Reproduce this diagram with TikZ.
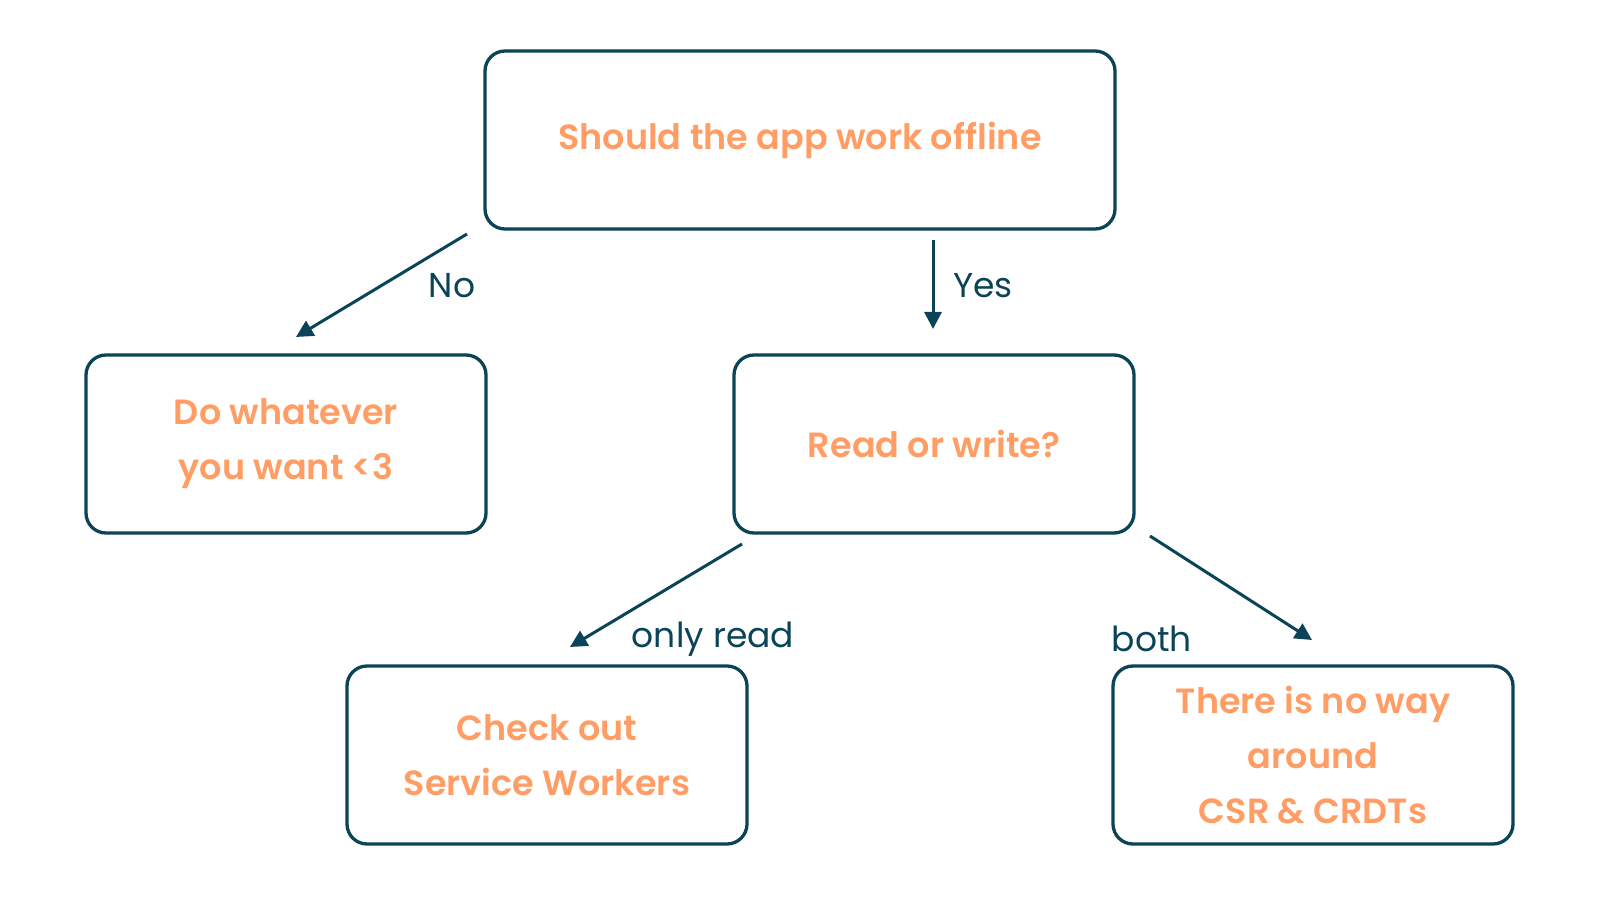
\documentclass[tikz,border=0pt]{standalone}
\usepackage{fontspec}
\setmainfont{Poppins}[BoldFont={Poppins SemiBold}]
\usetikzlibrary{arrows.meta}
\definecolor{navy}{RGB}{10,68,86}
\definecolor{peach}{RGB}{255,157,100}
\tikzset{
  question/.style={draw=navy, line width=3.3pt, rounded corners=20pt, minimum width=400pt, minimum height=178pt,
    align=center, text=peach, font=\fontsize{35}{55}\selectfont\bfseries},
  answer/.style={navy, line width=3pt, -{Triangle[width=17pt,length=17pt]}},
  choice/.style={text=navy, font=\fontsize{34.5}{40}\selectfont}
}
\begin{document}
\begin{tikzpicture}[x=1pt,y=1pt]
            \useasboundingbox (0,0) rectangle (1600,900);

            \node[question, minimum width=630pt] (offline) at (800,760) {Should the app work offline};
            \node[question] (whatever) at (286,456) {Do whatever\\you want <3};
            \node[question] (readwrite) at (934,456) {Read or write?};
            \node[question] (workers) at (547,145) {Check out\\Service Workers};
            \node[question] (noway) at (1313,145) {There is no way\\around\\CSR \& CRDTs};

            \coordinate (noStart) at (467,666);
            \coordinate (noEnd) at (296,563);
            \coordinate (yesStart) at (933,660);
            \coordinate (yesEnd) at (933,571);
            \coordinate (readStart) at (742,356);
            \coordinate (readEnd) at (570,253);
            \coordinate (bothStart) at (1150,364);
            \coordinate (bothEnd) at (1312,260);

            \draw[answer] (noStart) -- (noEnd);
            \draw[answer] (yesStart) -- (yesEnd);
            \draw[answer] (readStart) -- (readEnd);
            \draw[answer] (bothStart) -- (bothEnd);

            \node[choice] (no) at (452,614) {No};
            \node[choice] (yes) at (983,614) {Yes};
            \node[choice] (onlyread) at (713,261) {only read};
            \node[choice] (both) at (1152,261) {both};
        \end{tikzpicture}
\end{document}
